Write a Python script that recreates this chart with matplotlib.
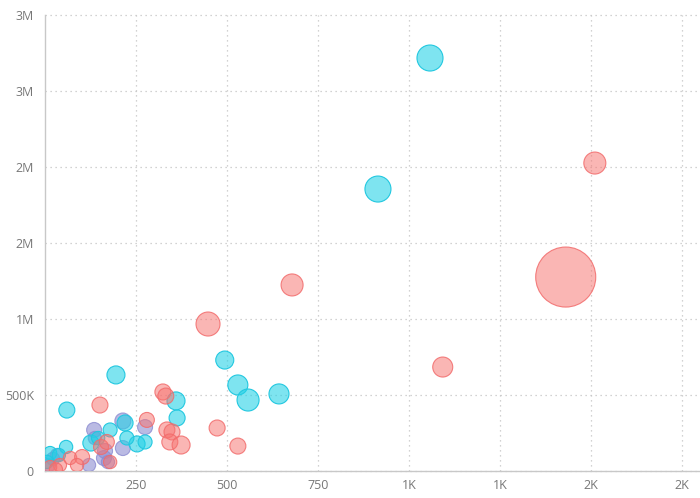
import matplotlib
matplotlib.use('Agg')
import matplotlib.pyplot as plt
from matplotlib.ticker import FixedLocator, FixedFormatter

plt.rcParams['font.family'] = ['Open Sans', 'DejaVu Sans']

# data: x, y and bubble value for each group
cyan_x = [1058, 915, 494, 530, 558, 643, 195, 60, 360, 363, 253, 275, 220, 179, 126, 225, 58, 14, 38, 146, 5]
cyan_y = [2717000, 1855000, 730000, 566000, 467000, 507000, 632000, 401000, 461000, 349000,
          178000, 191000, 316000, 270000, 184000, 217000, 158000, 118000, 105000, 217000, 60000]
cyan_v = [8450, 8450, 4050, 5000, 6050, 5000, 4050, 3200, 4050, 3200,
          3200, 2450, 3200, 2450, 3200, 2450, 2200, 2200, 2200, 2200, 2200]

red_x = [1431, 1511, 1093, 679, 448, 324, 332, 151, 473, 530, 280, 335, 349, 343, 374,
         154, 170, 179, 69, 102, 88, 41, 14, 30]
red_y = [1276000, 2026000, 684000, 1224000, 967000, 520000, 493000, 434000, 283000, 164000,
         336000, 270000, 257000, 191000, 171000, 158000, 191000, 59000, 86000, 92000,
         39000, 39000, 26000, 10000]
red_v = [45000, 6050, 5000, 6050, 7200, 3200, 3200, 3200, 3200, 3200, 2800, 3200, 3200, 3200,
         4050, 2800, 2800, 2200, 2200, 2800, 2200, 2200, 2200, 2200]

lav_x = [214, 275, 135, 214, 162, 173, 165, 33, 11, 121, 137, 22]
lav_y = [329000, 289000, 270000, 151000, 85000, 59000, 132000, 105000, 39000, 39000, 217000, 80000]
lav_v = [3200, 2800, 2800, 2800, 2800, 2200, 2800, 2200, 2200, 2200, 2200, 2200]

x_ticks = [250, 500, 750, 1000, 1250, 1500, 1750]
x_labels = ['250', '500', '750', '1K', '1K', '2K', '2K']
y_ticks = [0, 500000, 1000000, 1500000, 2000000, 2500000, 3000000]
y_labels = ['0', '500K', '1M', '2M', '2M', '3M', '3M']

fig = plt.figure(figsize=(7, 4.98), dpi=100)
ax = fig.add_axes([45 / 700, 27 / 498, 655 / 700, 456 / 498])

scale = 0.0415
ax.scatter(lav_x, lav_y, s=[v * scale for v in lav_v], facecolor=(0.55, 0.55, 0.82, 0.6),
           edgecolor=(0.55, 0.55, 0.82, 0.8), linewidth=0.8, zorder=3)
ax.scatter(cyan_x, cyan_y, s=[v * scale for v in cyan_v], facecolor=(0.13, 0.82, 0.90, 0.58),
           edgecolor='#22C8E0', linewidth=0.8, zorder=3)
ax.scatter(red_x, red_y, s=[v * scale for v in red_v], facecolor=(0.97, 0.45, 0.44, 0.52),
           edgecolor=(0.95, 0.42, 0.42, 0.85), linewidth=0.8, zorder=3)

ax.set_xlim(0, 1800)
ax.set_ylim(0, 3000000)
ax.xaxis.set_major_locator(FixedLocator(x_ticks))
ax.xaxis.set_major_formatter(FixedFormatter(x_labels))
ax.yaxis.set_major_locator(FixedLocator(y_ticks))
ax.yaxis.set_major_formatter(FixedFormatter(y_labels))

ax.grid(True, linestyle=(0, (1, 3)), color='#c4c4c4', linewidth=0.9)
ax.set_axisbelow(True)
for gl in ax.get_ygridlines() + ax.get_xgridlines():
    gl.set_clip_on(False)

for side in ['top', 'right']:
    ax.spines[side].set_visible(False)
for side in ['left', 'bottom']:
    ax.spines[side].set_color('#c8c8c8')
    ax.spines[side].set_linewidth(1)

ax.tick_params(length=0, labelsize=9, labelcolor='#777777')
ax.tick_params(axis='x', pad=6)
ax.tick_params(axis='y', pad=8)

fig.savefig('out.png', dpi=100)
